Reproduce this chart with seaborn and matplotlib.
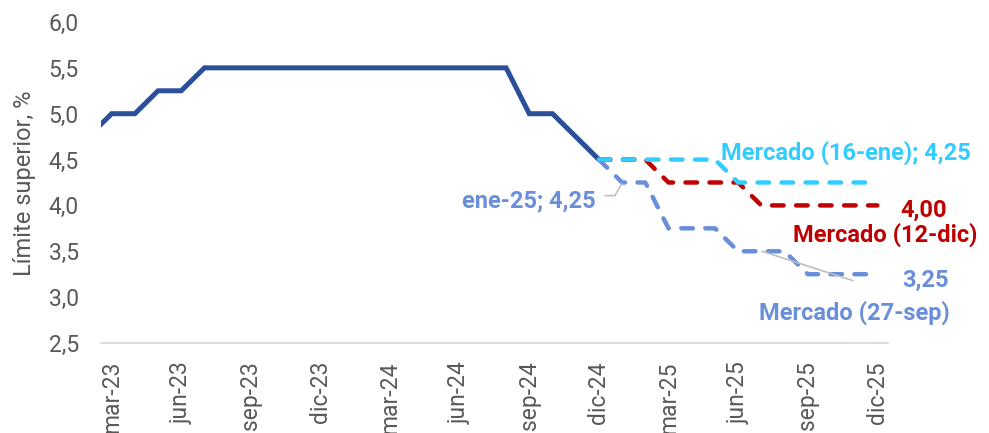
import numpy as np
import pandas as pd
import matplotlib
matplotlib.use('Agg')
import matplotlib.pyplot as plt
import seaborn as sns

# Datos: límite superior de la tasa de fondos federales (%)
meses = ['feb-23', 'mar-23', 'abr-23', 'may-23', 'jun-23', 'jul-23', 'ago-23', 'sep-23',
         'oct-23', 'nov-23', 'dic-23', 'ene-24', 'feb-24', 'mar-24', 'abr-24', 'may-24',
         'jun-24', 'jul-24', 'ago-24', 'sep-24', 'oct-24', 'nov-24', 'dic-24', 'ene-25',
         'feb-25', 'mar-25', 'abr-25', 'may-25', 'jun-25', 'jul-25', 'ago-25', 'sep-25',
         'oct-25', 'nov-25', 'dic-25']

fed = [4.75, 5.0, 5.0, 5.25, 5.25, 5.5, 5.5, 5.5, 5.5, 5.5, 5.5, 5.5, 5.5, 5.5, 5.5,
       5.5, 5.5, 5.5, 5.5, 5.0, 5.0, 4.75, 4.5]

# expectativas de mercado, dic-24 a dic-25
mercado_16ene = [4.5, 4.5, 4.5, 4.5, 4.5, 4.5, 4.25, 4.25, 4.25, 4.25, 4.25, 4.25, 4.25]
mercado_12dic = [4.5, 4.5, 4.5, 4.25, 4.25, 4.25, 4.25, 4.0, 4.0, 4.0, 4.0, 4.0, 4.0]
mercado_27sep = [4.5, 4.25, 4.25, 3.75, 3.75, 3.75, 3.5, 3.5, 3.5, 3.25, 3.25, 3.25, 3.25]

ticks_y = [2.5, 3.0, 3.5, 4.0, 4.5, 5.0, 5.5, 6.0]

pos = np.arange(len(meses))
pos_fed = pos[:len(fed)]
pos_mkt = pos[len(fed) - 1:]

azul = '#2B5099'
cian = '#33CCFF'
rojo = '#C00000'
azul_claro = '#6A8FDA'
gris = '#595959'

sns.set_theme(style='white')
plt.rcParams['font.family'] = ['Roboto', 'DejaVu Sans']

fig = plt.figure(figsize=(9.89, 4.33), dpi=100)
ax = fig.add_axes([0.1021, 0.2079, 0.7958, 0.7413])

dash = (0, (2.6, 2.8))
sns.lineplot(x=pos_fed, y=fed, ax=ax, color=azul, linewidth=3.6,
             solid_capstyle='butt', solid_joinstyle='miter')
sns.lineplot(x=pos_mkt, y=mercado_27sep, ax=ax, color=azul_claro, linewidth=3.2,
             linestyle=dash, dash_capstyle='round')
sns.lineplot(x=pos_mkt, y=mercado_12dic, ax=ax, color=rojo, linewidth=3.2,
             linestyle=dash, dash_capstyle='round')
sns.lineplot(x=pos_mkt, y=mercado_16ene, ax=ax, color=cian, linewidth=3.2,
             linestyle=dash, dash_capstyle='round')

ax.set_xlim(0.54, 34.46)
ax.set_ylim(2.5, 6.0)
ax.set_yticks(ticks_y)
ax.set_yticklabels([f'{v:.1f}'.replace('.', ',') for v in ticks_y])
ax.set_xticks(pos[1::3])
ax.set_xticklabels(meses[1::3], rotation=90)
ax.tick_params(axis='both', length=0, labelsize=16.5, labelcolor=gris)
ax.tick_params(axis='y', pad=16)
ax.tick_params(axis='x', pad=13)

for s in ['top', 'right', 'left']:
    ax.spines[s].set_visible(False)
ax.spines['bottom'].set_color('#D9D9D9')
ax.spines['bottom'].set_linewidth(1.3)
ax.grid(False)
ax.set_xlabel('')
ax.set_ylabel('')

fig.text(25 / 989, 1 - 183.5 / 433, 'Límite superior, %', rotation=90,
         ha='center', va='center', fontsize=17, color=gris)

# etiquetas
etq = dict(fontsize=17, fontweight='bold', ha='left', va='baseline', clip_on=False)
ax.text(27.26, 4.50, 'Mercado (16-ene); 4,25', color=cian, **etq)
ax.text(34.98, 3.88, '4,00', color=rojo, **etq)
ax.text(30.36, 3.61, 'Mercado (12-dic)', color=rojo, **etq)
ax.text(35.07, 3.11, '3,25', color=azul_claro, **etq)
ax.text(28.89, 2.75, 'Mercado (27-sep)', color=azul_claro, **etq)
ax.text(16.1, 3.98, 'ene-25; 4,25', color=azul_claro, **etq)

# líneas guía
ax.plot([22.26, 22.69, 22.98], [4.107, 4.107, 4.234], color='#BFBFBF', lw=1.2, clip_on=False)
ax.plot([29.03, 32.95], [3.50, 3.18], color='#BFBFBF', lw=1.2, clip_on=False)

fig.savefig('out.png', dpi=100)
